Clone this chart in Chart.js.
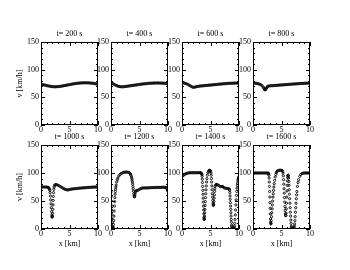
<!DOCTYPE html>
<html><head><meta charset="utf-8">
<script src="https://cdn.jsdelivr.net/npm/chart.js@4.4.1/dist/chart.umd.min.js"></script>
<style>
html,body{margin:0;padding:0;background:#fff;}
#wrap{position:relative;width:350px;height:270px;overflow:hidden;background:#fff;}
canvas{position:absolute;}
</style></head><body><div id="wrap"></div>
<script>
// ---- data (x [km], v [km/h]) ----
const times = [200, 400, 600, 800, 1000, 1200, 1400, 1600];
const xTicks = [0, 5, 10];
const yTicks = [0, 50, 100, 150];
const xLabel = 'x [km]';
const yLabel = 'v [km/h]';

const p200 = [[0,73.5],[0.2,73.2],[0.4,72.8],[0.6,72.3],[0.8,71.8],[1,71.3],[1.2,70.8],[1.4,70.4],[1.6,70],[1.8,69.7],[2,69.4],[2.2,69.2],[2.4,69.1],[2.6,69.1],[2.8,69.2],[3,69.4],[3.2,69.6],[3.4,69.9],[3.6,70.2],[3.8,70.6],[4,71],[4.2,71.4],[4.4,71.8],[4.6,72.2],[4.8,72.6],[5,73],[5.2,73.4],[5.4,73.8],[5.6,74.2],[5.8,74.5],[6,74.8],[6.2,75.1],[6.4,75.4],[6.6,75.6],[6.8,75.8],[7,76],[7.2,76.1],[7.4,76.2],[7.6,76.3],[7.8,76.3],[8,76.3],[8.2,76.2],[8.4,76.1],[8.6,75.9],[8.8,75.7],[9,75.5],[9.2,75.2],[9.4,74.9],[9.6,74.6],[9.8,74.2],[10,73.8]];
const p400 = [[0,76],[0.2,75.3],[0.4,74.3],[0.6,73.2],[0.8,72.1],[1,71.1],[1.2,70.3],[1.4,69.7],[1.6,69.3],[1.8,69.1],[2,69.1],[2.2,69.2],[2.4,69.4],[2.6,69.7],[2.8,70],[3,70.3],[3.2,70.6],[3.4,70.9],[3.6,71.2],[3.8,71.5],[4,71.8],[4.2,72.1],[4.4,72.4],[4.6,72.7],[4.8,73],[5,73.3],[5.2,73.6],[5.4,73.9],[5.6,74.2],[5.8,74.4],[6,74.6],[6.2,74.8],[6.4,75],[6.6,75.2],[6.8,75.4],[7,75.5],[7.2,75.6],[7.4,75.7],[7.6,75.8],[7.8,75.8],[8,75.9],[8.2,75.9],[8.4,75.9],[8.6,75.8],[8.8,75.7],[9,75.6],[9.2,75.5],[9.4,75.4],[9.6,75.2],[9.8,75],[10,74.8]];
const p600 = [[0,76.5],[0.2,76.2],[0.4,75.8],[0.6,75.2],[0.8,74.4],[1,73.4],[1.2,72.3],[1.4,71.1],[1.6,69.9],[1.8,68.8],[2,68],[2.2,68.3],[2.4,68.9],[2.6,69.4],[2.8,69.8],[3,70.1],[3.2,70.4],[3.4,70.6],[3.6,70.8],[3.8,71],[4,71.2],[4.2,71.4],[4.4,71.6],[4.6,71.8],[4.8,72],[5,72.2],[5.2,72.4],[5.4,72.6],[5.6,72.8],[5.8,73],[6,73.2],[6.2,73.4],[6.4,73.6],[6.6,73.8],[6.8,74],[7,74.2],[7.2,74.4],[7.4,74.6],[7.6,74.8],[7.8,74.9],[8,75.1],[8.2,75.2],[8.4,75.3],[8.6,75.4],[8.8,75.5],[9,75.6],[9.2,75.6],[9.4,75.7],[9.6,75.7],[9.8,75.7],[10,75.7]];
const p800 = [[0,76],[0.2,75.8],[0.4,75.5],[0.6,75.2],[0.8,74.8],[1,74.3],[1.2,73.6],[1.4,72.6],[1.6,71],[1.8,68.5],[1.9,66.5],[2,64.5],[2.1,63.5],[2.2,64],[2.3,65.5],[2.4,67.5],[2.5,69],[2.6,70],[2.8,70.6],[3,70.8],[3.2,71],[3.4,71.1],[3.6,71.3],[3.8,71.4],[4,71.6],[4.2,71.7],[4.4,71.9],[4.6,72],[4.8,72.2],[5,72.4],[5.2,72.5],[5.4,72.7],[5.6,72.8],[5.8,73],[6,73.2],[6.2,73.3],[6.4,73.5],[6.6,73.6],[6.8,73.8],[7,74],[7.2,74.1],[7.4,74.3],[7.6,74.4],[7.8,74.6],[8,74.7],[8.2,74.9],[8.4,75],[8.6,75.1],[8.8,75.2],[9,75.3],[9.2,75.4],[9.4,75.5],[9.6,75.6],[9.8,75.6],[10,75.7]];
const p1000 = [[0,75],[0.2,75],[0.4,75],[0.6,75],[0.8,75],[1,74.8],[1.2,74.5],[1.3,74],[1.4,73],[1.5,71],[1.55,69],[1.6,65],[1.65,59],[1.7,52],[1.75,45],[1.8,38],[1.85,31],[1.9,25],[1.93,22],[1.96,21],[2,23],[2.03,28],[2.06,35],[2.1,43],[2.13,51],[2.16,58],[2.2,65],[2.25,71],[2.3,75],[2.4,78],[2.5,79],[2.6,79.5],[2.8,79],[3,78],[3.2,77],[3.4,75.8],[3.6,74.5],[3.8,73.2],[4,72],[4.2,71],[4.4,70.2],[4.6,69.8],[4.8,70],[5,70.5],[5.2,71],[5.4,71.3],[5.6,71.6],[5.8,71.9],[6,72.1],[6.2,72.3],[6.4,72.5],[6.6,72.7],[6.8,72.9],[7,73.1],[7.2,73.3],[7.4,73.5],[7.6,73.6],[7.8,73.8],[8,74],[8.2,74.1],[8.4,74.3],[8.6,74.4],[8.8,74.5],[9,74.7],[9.2,74.8],[9.4,74.9],[9.6,75],[9.8,75.1],[10,75.2]];
const p1200 = [[0,66],[0.03,58],[0.06,50],[0.09,42],[0.12,34],[0.15,26],[0.18,18],[0.21,11],[0.24,5],[0.27,2],[0.3,1],[0.33,0.5],[0.36,1],[0.4,3],[0.44,8],[0.48,15],[0.52,23],[0.56,32],[0.6,41],[0.64,49],[0.68,56],[0.72,62],[0.76,67],[0.8,71],[0.85,75],[0.9,78.5],[1,84],[1.1,88],[1.2,91],[1.4,95],[1.6,97.5],[1.8,99.2],[2,100.3],[2.2,101],[2.4,101.4],[2.6,101.6],[2.8,101.6],[3,101.3],[3.2,100.5],[3.3,99.5],[3.4,98],[3.5,96],[3.6,93],[3.65,90.5],[3.7,87.5],[3.75,84],[3.8,80],[3.85,76],[3.9,72],[3.95,67.5],[4,63],[4.05,59.5],[4.1,57.5],[4.15,58],[4.2,61],[4.25,64.5],[4.3,67],[4.4,68.5],[4.6,68.8],[4.8,69.5],[5,70.8],[5.2,72],[5.4,72.8],[5.6,73.2],[5.8,73.3],[6,73.3],[6.2,73.4],[6.4,73.5],[6.6,73.6],[6.8,73.7],[7,73.8],[7.2,73.9],[7.4,74],[7.6,74],[7.8,74.1],[8,74.2],[8.2,74.2],[8.4,74.3],[8.6,74.3],[8.8,74.4],[9,74.4],[9.2,74.5],[9.4,74.5],[9.6,74.3],[9.7,73.5],[9.8,72],[9.9,70],[10,67.5]];
const p1400 = [[0,93.5],[0.2,95.5],[0.4,97],[0.6,98.3],[0.8,99.2],[1,99.8],[1.2,100.2],[1.4,100.4],[1.6,100.5],[1.8,100.5],[2,100.5],[2.2,100.5],[2.4,100.5],[2.6,100.5],[2.8,100.5],[3,100.5],[3.2,100.5],[3.3,100.2],[3.4,99.5],[3.45,98.5],[3.5,97],[3.53,94],[3.56,89],[3.59,83],[3.62,76],[3.65,69],[3.68,62],[3.71,55],[3.74,48],[3.77,41],[3.8,34],[3.83,27],[3.86,21],[3.88,18],[3.9,17],[3.92,18],[3.95,23],[3.98,29],[4.01,35],[4.05,42],[4.09,49],[4.13,56],[4.17,63],[4.21,70],[4.26,77],[4.31,84],[4.37,90],[4.45,96],[4.55,100.5],[4.65,103],[4.75,104.5],[4.85,105],[4.95,104.5],[5.02,103],[5.08,100],[5.12,96],[5.16,90],[5.2,84],[5.24,77],[5.28,70],[5.32,63],[5.36,57],[5.4,51],[5.44,46],[5.48,43],[5.52,42],[5.56,44],[5.6,49],[5.64,55],[5.68,61],[5.72,67],[5.76,72],[5.8,75.5],[5.9,78.5],[6,79.5],[6.1,79.5],[6.2,79],[6.4,78],[6.6,76.5],[6.8,75.5],[7,75.8],[7.1,76],[7.2,75],[7.4,73.5],[7.6,72.8],[7.8,72.5],[8,72.3],[8.2,72],[8.3,71],[8.35,69],[8.4,65],[8.43,59],[8.46,53],[8.49,47],[8.52,41],[8.55,35],[8.58,29],[8.61,23],[8.64,17],[8.67,12],[8.7,7],[8.73,4],[8.76,2],[8.8,1],[8.9,0.5],[9,0.5],[9.1,1],[9.15,2.5],[9.2,5],[9.25,10],[9.3,17],[9.35,25],[9.4,34],[9.45,43],[9.5,52],[9.55,60],[9.6,67],[9.65,73],[9.7,78],[9.75,82],[9.8,86],[9.85,89],[9.9,91],[10,93.5]];
const p1600 = [[0,100],[0.2,100],[0.4,100],[0.6,100],[0.8,100],[1,100],[1.2,100],[1.4,100],[1.6,100],[1.8,100],[2,100],[2.2,100],[2.4,100],[2.6,100],[2.7,99.5],[2.75,98.5],[2.8,96],[2.83,91],[2.86,84],[2.89,76],[2.92,67],[2.95,57],[2.98,47],[3.01,37],[3.04,27],[3.07,18],[3.1,12],[3.13,9],[3.16,10],[3.2,15],[3.25,22],[3.3,29],[3.35,36],[3.4,43],[3.45,50],[3.5,57],[3.55,63],[3.6,69],[3.66,75],[3.72,81],[3.8,87],[3.9,93],[4,97.5],[4.1,100.5],[4.2,102.5],[4.3,103.8],[4.5,104.5],[4.7,105],[4.9,105],[5.1,104.5],[5.2,103],[5.27,100],[5.32,95],[5.36,88],[5.4,80],[5.44,72],[5.48,64],[5.52,56],[5.56,48],[5.6,40],[5.64,33],[5.68,27],[5.72,24],[5.76,24],[5.8,28],[5.84,36],[5.88,46],[5.92,57],[5.96,68],[6,78],[6.04,86],[6.08,92],[6.12,95],[6.16,96],[6.2,95],[6.24,91],[6.28,85],[6.32,78],[6.36,70],[6.4,62],[6.44,54],[6.48,46],[6.52,38],[6.56,30],[6.6,23],[6.64,16],[6.68,10],[6.72,5],[6.76,2.5],[6.8,1],[6.9,0.5],[7,0.5],[7.1,1],[7.2,2.5],[7.25,5],[7.3,9],[7.35,15],[7.4,22],[7.45,30],[7.5,38],[7.55,46],[7.6,54],[7.65,61],[7.7,67],[7.8,76],[7.9,83],[8,88],[8.2,94],[8.4,97.5],[8.6,99],[8.8,99.8],[9,100],[9.2,100],[9.4,100],[9.6,100],[9.8,100],[10,100]];
const profiles = [p200, p400, p600, p800, p1000, p1200, p1400, p1600];

// ---- layout ----
const plotLefts = [41, 111, 182, 253];
const plotW = 57;
const plotTops = [42, 145];
const plotHs = [83, 84];

Chart.defaults.font.family = '"Liberation Serif", "DejaVu Serif", serif';
Chart.defaults.font.size = 8;
Chart.defaults.color = '#000';

const frameTicks = {
  id: 'frameTicks',
  afterDraw(chart) {
    const {ctx, chartArea: a, scales: {x, y}} = chart;
    ctx.save();
    ctx.strokeStyle = '#000';
    ctx.lineWidth = 1;
    ctx.beginPath();
    for (let v = 0; v <= 10; v += 1) {
      const px = Math.round(x.getPixelForValue(v)) + 0.5;
      const len = (v % 5 === 0) ? 4 : 2;
      ctx.moveTo(px, a.bottom); ctx.lineTo(px, a.bottom - len);
      ctx.moveTo(px, a.top); ctx.lineTo(px, a.top + len);
    }
    for (let v = 0; v <= 150; v += 10) {
      const py = Math.round(y.getPixelForValue(v)) + 0.5;
      const len = (v % 50 === 0) ? 4 : 2;
      ctx.moveTo(a.left, py); ctx.lineTo(a.left + len, py);
      ctx.moveTo(a.right, py); ctx.lineTo(a.right - len, py);
    }
    ctx.stroke();
    ctx.strokeRect(Math.round(a.left) + 0.5, Math.round(a.top) + 0.5,
                   Math.round(a.right - a.left) - 1, Math.round(a.bottom - a.top) - 1);
    ctx.restore();
  }
};

const wrap = document.getElementById('wrap');
times.forEach((t, i) => {
  const row = Math.floor(i / 4), col = i % 4;
  const yW = col === 0 ? 26 : 22;
  const xH = row === 1 ? 20 : 10;
  const titleH = 12, padR = 8;
  const cv = document.createElement('canvas');
  const w = yW + plotW + padR, h = titleH + plotHs[row] + xH;
  cv.width = w; cv.height = h;
  cv.style.width = w + 'px'; cv.style.height = h + 'px';
  cv.style.left = (plotLefts[col] - yW) + 'px';
  cv.style.top = (plotTops[row] - titleH) + 'px';
  wrap.appendChild(cv);
  new Chart(cv, {
    type: 'scatter',
    data: { datasets: [{
      data: profiles[i].map(p => ({x: p[0], y: p[1]})),
      pointRadius: 1.1, pointBorderWidth: 0.9,
      pointBorderColor: '#000', pointBackgroundColor: 'rgba(0,0,0,0)',
      pointHoverRadius: 0
    }]},
    options: {
      responsive: false, animation: false, devicePixelRatio: 1,
      layout: { padding: { left: 0, right: padR, top: 0, bottom: 0 } },
      plugins: {
        legend: { display: false }, tooltip: { enabled: false },
        title: { display: true, text: 't= ' + t + ' s', fullSize: false,
                 font: { size: 8, lineHeight: 1, weight: 'normal' }, padding: { top: 0, bottom: 4 }, color: '#000' }
      },
      scales: {
        x: {
          type: 'linear', min: 0, max: 10,
          grid: { display: false, drawTicks: false }, border: { display: false },
          afterBuildTicks: s => { s.ticks = xTicks.map(v => ({value: v})); },
          ticks: { padding: 0, maxRotation: 0, font: { size: 8 } },
          title: { display: row === 1, text: xLabel, font: { size: 8 }, padding: { top: 0, bottom: 0 } },
          afterFit: s => { s.height = xH; }
        },
        y: {
          type: 'linear', min: 0, max: 150,
          grid: { display: false, drawTicks: false }, border: { display: false },
          afterBuildTicks: s => { s.ticks = yTicks.map(v => ({value: v})); },
          ticks: { padding: 2, font: { size: 8 } },
          title: { display: col === 0, text: yLabel, font: { size: 8 }, padding: { top: 0, bottom: 0 } },
          afterFit: s => { s.width = yW; }
        }
      }
    },
    plugins: [frameTicks]
  });
});
</script></body></html>
